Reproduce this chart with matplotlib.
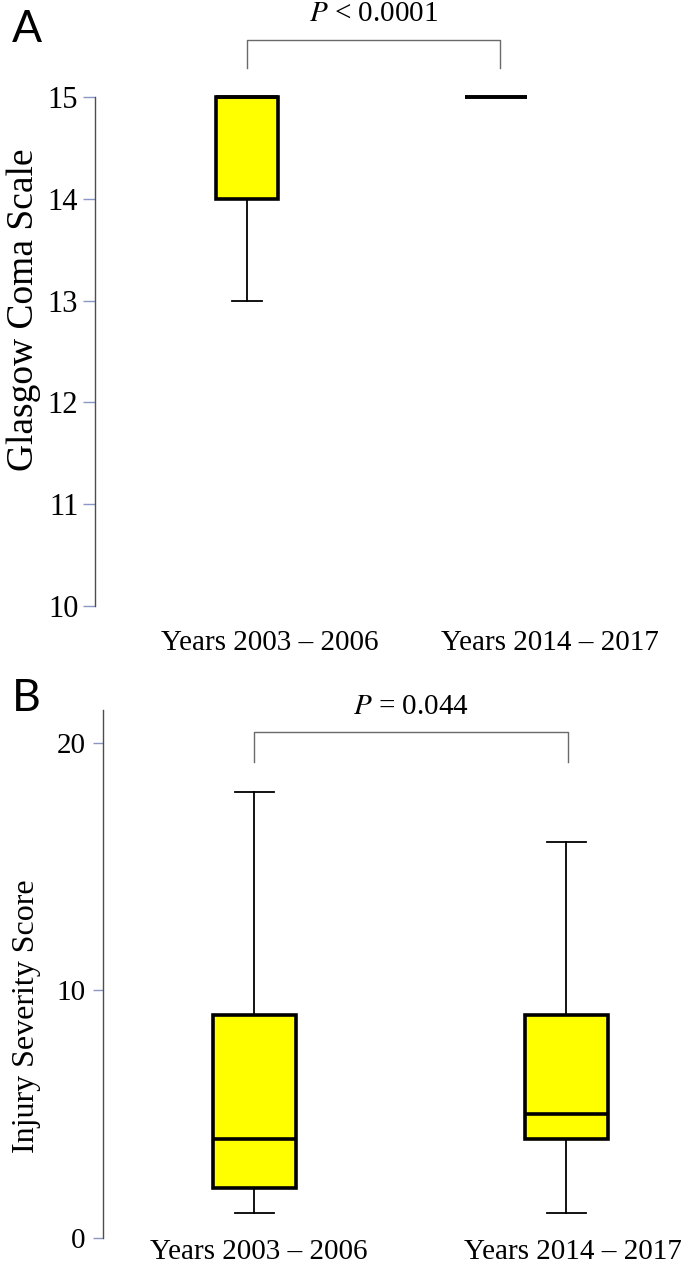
import matplotlib
matplotlib.use("Agg")
import matplotlib.pyplot as plt

# Data (box plot summaries)
groups = ["Years 2003 \u2013 2006", "Years 2014 \u2013 2017"]

gcs_low = [13, 15]
gcs_q1 = [14, 15]
gcs_med = [15, 15]
gcs_q3 = [15, 15]
gcs_high = [15, 15]

iss_low = [1, 1]
iss_q1 = [2, 4]
iss_med = [4, 5]
iss_q3 = [9, 9]
iss_high = [18, 16]

gcs_ticks = [10, 11, 12, 13, 14, 15]
iss_ticks = [0, 10, 20]
p_text_a = "$P$ < 0.0001"
p_text_b = "$P$ = 0.044"

plt.rcParams['font.family'] = ['Liberation Serif', 'DejaVu Serif']
plt.rcParams['mathtext.fontset'] = 'stix'

SPINE = '#4d4d4d'
TICK = '#8a96c4'
BRACKET = '#6a6a6a'


def make_stats(low, q1, med, q3, high):
    return [dict(whislo=a, q1=b, med=c, q3=d, whishi=e, fliers=[])
            for a, b, c, d, e in zip(low, q1, med, q3, high)]


def style_axes(ax, ticks, tick_len, pad, size):
    for s in ['top', 'right', 'bottom']:
        ax.spines[s].set_visible(False)
    ax.spines['left'].set_color(SPINE)
    ax.spines['left'].set_linewidth(1.0)
    ax.set_yticks(ticks)
    ax.tick_params(axis='y', direction='out', length=tick_len, width=1.0,
                   color=TICK, pad=pad, labelsize=size)
    ax.tick_params(axis='x', length=0, labelsize=21)


def draw_boxes(ax, stats, width, capw):
    ax.bxp(stats, positions=[1, 2], widths=width, capwidths=capw,
           patch_artist=True, showfliers=False,
           boxprops=dict(facecolor='#ffff00', edgecolor='black', linewidth=2.6),
           medianprops=dict(color='black', linewidth=2.6),
           whiskerprops=dict(color='black', linewidth=1.3),
           capprops=dict(color='black', linewidth=1.3))


def bracket(ax, x0, x1, ylo, yhi, ytext, text):
    ax.plot([x0, x0, x1, x1], [ylo, yhi, yhi, ylo], color=BRACKET,
            linewidth=1.0, clip_on=False)
    ax.text((x0 + x1) / 2, ytext, text, ha='center', va='center',
            fontsize=21, clip_on=False)


fig = plt.figure(figsize=(6.85, 12.69), dpi=100)

# ── Panel A: Glasgow Coma Scale ──────────────────────────────────────────────
ax1 = fig.add_axes([0.1387, 0.5225, 0.8613, 0.4491])
draw_boxes(ax1, make_stats(gcs_low, gcs_q1, gcs_med, gcs_q3, gcs_high), 0.25, 0.12)
ax1.set_xlim(0.39, 2.76)
ax1.set_ylim(10, 15.6)
style_axes(ax1, gcs_ticks, 8.5, 3.5, 22)
ax1.spines['left'].set_bounds(10, 15)
ax1.set_xticks([1.092, 2.217])
ax1.set_xticklabels(groups)
ax1.tick_params(axis='x', pad=17)
ax1.set_ylabel('Glasgow Coma Scale', fontsize=27)
ax1.yaxis.set_label_coords(-0.092, 0.52)
bracket(ax1, 1.0, 2.016, 15.29, 15.56, 15.82, p_text_a)

# ── Panel B: Injury Severity Score ───────────────────────────────────────────
ax2 = fig.add_axes([0.1504, 0.02443, 0.8496, 0.4164])
draw_boxes(ax2, make_stats(iss_low, iss_q1, iss_med, iss_q3, iss_high), 0.266, 0.125)
ax2.set_xlim(0.516, 2.38)
ax2.set_ylim(0, 21.35)
style_axes(ax2, iss_ticks, 7, 5.5, 21)
ax2.set_xticks([1.016, 2.02])
ax2.set_xticklabels(groups)
ax2.tick_params(axis='x', pad=1)
ax2.set_ylabel('Injury Severity Score', fontsize=23)
ax2.yaxis.set_label_coords(-0.106, 0.42)
bracket(ax2, 1.0, 2.006, 19.23, 20.44, 21.45, p_text_b)

# Panel letters
fig.text(0.018, 0.993, 'A', fontsize=32, family=['Lato', 'DejaVu Sans'], va='top')
fig.text(0.018, 0.466, 'B', fontsize=32, family=['Lato', 'DejaVu Sans'], va='top')

fig.savefig('out.png', dpi=100)
